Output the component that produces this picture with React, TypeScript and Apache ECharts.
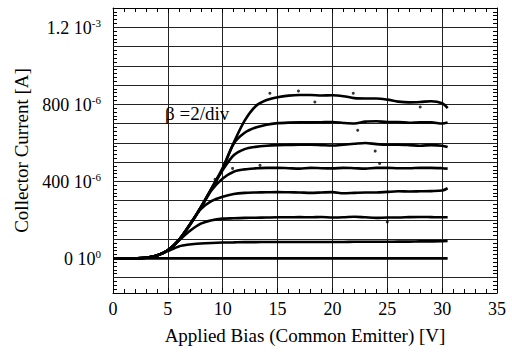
import React, { useEffect, useRef } from "react";
import * as echarts from "echarts";

// Applied bias samples [V]
const biasV = [0, 1, 2, 3, 4, 5, 6, 7, 8, 9, 10, 11, 12, 13, 14, 15, 16, 17, 18, 19, 20, 21, 22, 23, 24, 25, 26, 27, 28, 29, 30, 30.5];

// Collector current [µA] for each base-current step (β = 2/div)
const curve7 = [0, 0, 0.5, 3, 15, 42, 95, 175, 265, 365, 470, 600, 715, 790, 822, 837, 845, 848, 848, 846, 847, 842, 832, 830, 830, 824, 814, 810, 812, 816, 805, 780];
const curve6 = [0, 0, 0.5, 3, 15, 42, 95, 175, 265, 365, 465, 595, 652, 679, 694, 702, 705, 706, 706, 707, 708, 703, 700, 710, 712, 708, 708, 704, 706, 706, 700, 705];
const curve5 = [0, 0, 0.5, 3, 15, 42, 95, 175, 265, 362, 458, 535, 567, 579, 585, 588, 589, 590, 590, 588, 586, 590, 595, 599, 593, 590, 590, 588, 585, 588, 585, 578];
const curve4 = [0, 0, 0.5, 3, 15, 42, 95, 175, 262, 355, 415, 450, 462, 467, 470, 470, 468, 466, 470, 468, 467, 470, 468, 466, 470, 470, 468, 468, 470, 470, 468, 466];
const curve3 = [0, 0, 0.5, 3, 15, 42, 95, 172, 255, 298, 320, 334, 340, 342, 343, 344, 343, 342, 340, 342, 344, 338, 340, 342, 342, 345, 348, 347, 348, 349, 352, 364];
const curve2 = [0, 0, 0.5, 3, 15, 42, 92, 142, 180, 198, 206, 208, 210, 211, 212, 213, 213, 214, 213, 215, 212, 213, 216, 213, 210, 212, 212, 214, 215, 214, 213, 213];
const curve1 = [0, 0, 0.5, 3, 14, 38, 62, 72, 77, 80, 82, 83, 84, 84, 85, 85, 85, 85, 85, 85, 85, 85, 86, 86, 86, 86, 87, 87, 88, 88, 89, 90];
const curve0 = [0, 0, 0, 0, 0, 0, 0, 0, 0, 0, 0, 0, 0, 0, 0, 0, 0, 0, 0, 0, 0, 0, 0, 0, 0, 0, 0, 0, 0, 0, 0, 0];

const curves = [curve0, curve1, curve2, curve3, curve4, curve5, curve6, curve7];

// Stray measurement dots [V, µA]
const strayDots = [
  [14.3, 857], [16.9, 869], [18.4, 812], [21.9, 857], [28, 786], [22.3, 665],
  [23.9, 557], [24.3, 493], [25, 189], [13.4, 483], [10.9, 467], [9.3, 410],
];

// Horizontal grid lines [µA]
const gridLinesY = [-100, 100, 200, 300, 400, 500, 600, 700, 800, 900, 1000, 1100, 1200];

// Y tick labels [µA] -> mantissa, exponent
const yLabelValues = [0, 400, 800, 1200];
const yLabelMantissa = ["0 10", "400 10", "800 10", "1.2 10"];
const yLabelExponent = ["0", "-6", "-6", "-3"];

const FONT = "Liberation Serif";

export default function App() {
  const ref = useRef<HTMLDivElement>(null);
  useEffect(() => {
    if (!ref.current) return;
    const chart = echarts.init(ref.current, undefined, { renderer: "svg" });
    const lineSeries = curves.map((c, i) => ({
      type: "line",
      name: "c" + i,
      data: biasV.map((v, k) => [v, c[k]]),
      showSymbol: false,
      smooth: 0.3,
      lineStyle: { color: "#000", width: 2.6 },
      z: 4,
    }));
    const axisCommonY = {
      type: "value",
      min: -180,
      max: 1300,
      interval: 20,
      axisLine: { show: true, onZero: false, lineStyle: { color: "#000", width: 1 } },
      axisTick: { show: true, inside: true, length: 4, lineStyle: { color: "#000" } },
      splitLine: { show: false },
    };
    const axisCommonX = {
      type: "value",
      min: 0,
      max: 35,
      interval: 5,
      axisLine: { show: true, onZero: false, lineStyle: { color: "#000", width: 1 } },
      axisTick: { show: true, inside: true, length: 5, lineStyle: { color: "#000" } },
      minorTick: { show: true, splitNumber: 5, length: 4, lineStyle: { color: "#000" } },
    };
    chart.setOption({
      animation: false,
      backgroundColor: "#fff",
      grid: { left: 113, right: 15, top: 8, bottom: 59, containLabel: false },
      xAxis: [
        {
          ...axisCommonX,
          position: "bottom",
          name: "Applied Bias (Common Emitter) [V]",
          nameLocation: "middle",
          nameGap: 33,
          nameTextStyle: { fontFamily: FONT, fontSize: 19, color: "#000" },
          axisLabel: { fontFamily: FONT, fontSize: 18, color: "#000", margin: 7 },
          splitLine: { show: true, lineStyle: { color: "#222", width: 1 } },
        },
        {
          ...axisCommonX,
          position: "top",
          axisLabel: { show: false },
          splitLine: { show: false },
        },
      ],
      yAxis: [
        {
          ...axisCommonY,
          position: "left",
          name: "Collector Current [A]",
          nameLocation: "middle",
          nameGap: 81,
          nameTextStyle: { fontFamily: FONT, fontSize: 19, color: "#000" },
          axisLabel: {
            margin: 12,
            formatter: (v: number) => {
              const idx = yLabelValues.indexOf(Math.round(v));
              if (idx < 0 || Math.abs(v - yLabelValues[idx]) > 1e-6) return "";
              return "{b|" + yLabelMantissa[idx] + "}{s|" + yLabelExponent[idx] + "}";
            },
            rich: {
              b: { fontFamily: FONT, fontSize: 18, color: "#000", lineHeight: 20, verticalAlign: "bottom" },
              s: { fontFamily: FONT, fontSize: 11, color: "#000", lineHeight: 20, verticalAlign: "top" },
            },
          },
        },
        {
          ...axisCommonY,
          position: "right",
          axisLabel: { show: false },
        },
      ],
      graphic: [
        {
          type: "text",
          left: 165,
          top: 104,
          style: { text: "β =2/div", fontFamily: FONT, fontSize: 19, fill: "#000" },
          z: 10,
        },
      ],
      series: [
        {
          type: "line",
          data: [],
          silent: true,
          z: 1,
          markLine: {
            silent: true,
            symbol: ["none", "none"],
            label: { show: false },
            z: 1,
            lineStyle: { color: "#222", width: 1, type: "solid" },
            data: gridLinesY.map((y) => ({ yAxis: y })),
          },
        },
        ...lineSeries,
        {
          type: "scatter",
          data: strayDots,
          symbolSize: 3,
          itemStyle: { color: "#000" },
          z: 5,
        },
      ],
    });
    return () => chart.dispose();
  }, []);
  return (
    <div
      ref={ref}
      style={{ width: 512, height: 352, position: "absolute", left: 0, top: 0 }}
    />
  );
}
